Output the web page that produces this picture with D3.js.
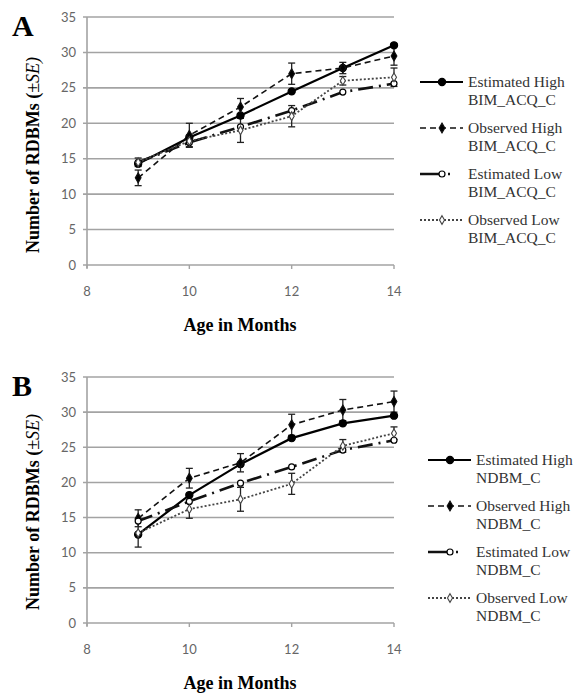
<!DOCTYPE html>
<html>
<head>
<meta charset="utf-8">
<script src="https://cdn.jsdelivr.net/npm/d3@7"></script>
<style>
  body { margin: 0; background: #fff; }
  .serif { font-family: "Liberation Serif", "DejaVu Serif", "Times New Roman", serif; }
  .sans { font-family: Lato, "Open Sans", sans-serif; }
</style>
</head>
<body>
<svg id="chart" width="579" height="694"></svg>
<script>
// ages and axis ticks
const months = [9, 10, 11, 12, 13, 14];
const xTicks = [8, 10, 12, 14];
const yTicks = [0, 5, 10, 15, 20, 25, 30, 35];

// panel A, BIM_ACQ_C
const aEstHigh = [14.3, 18.0, 21.1, 24.5, 27.8, 31.0];
const aObsHigh = [12.3, 18.3, 22.3, 27.0, 27.8, 29.5];
const aObsHighSE = [1.1, 1.7, 1.2, 1.5, 0.8, 1.3];
const aEstLow = [14.5, 17.3, 19.5, 21.8, 24.4, 25.6];
const aObsLow = [14.5, 17.5, 19.0, 21.0, 26.0, 26.5];
const aObsLowSE = [0.6, 0.8, 1.7, 1.5, 0.6, 1.3];

// panel B, NDBM_C
const bEstHigh = [12.6, 18.2, 22.6, 26.3, 28.4, 29.5];
const bObsHigh = [14.9, 20.6, 22.8, 28.2, 30.3, 31.5];
const bObsHighSE = [1.2, 1.4, 1.3, 1.5, 1.5, 1.5];
const bEstLow = [14.5, 17.3, 19.9, 22.2, 24.6, 26.0];
const bObsLow = [12.8, 16.2, 17.6, 19.8, 25.2, 27.0];
const bObsLowSE = [2.0, 1.3, 1.7, 1.5, 0.9, 0.9];

const seriesNames = ["Estimated High", "Observed High", "Estimated Low", "Observed Low"];

// line styles for the four series, same order as seriesNames
const styles = [
    {dash: null, width: 2.2, color: "#000", marker: "circle", fill: "#000", r: 3.6},
    {dash: "6,4", width: 1.6, color: "#111", marker: "diamond", fill: "#000", r: 3.0},
    {dash: "15,6,2,6", width: 2.6, color: "#111", marker: "circle", fill: "#fff", r: 3.0},
    {dash: "2,2", width: 1.8, color: "#444", marker: "diamond", fill: "#fff", r: 2.6}
];

const svg = d3.select("#chart");

function marker(sel, st, cx, cy) {
    if (st.marker === "circle") {
        sel.append("circle")
            .attr("cx", cx).attr("cy", cy).attr("r", st.r)
            .attr("fill", st.fill).attr("stroke", "#000").attr("stroke-width", 1.2);
    } else {
        sel.append("path")
            .attr("d", d3.symbol(d3.symbolDiamond, st.r * st.r * 3.2)())
            .attr("transform", `translate(${cx},${cy})`)
            .attr("fill", st.fill).attr("stroke", st.color).attr("stroke-width", 1.1);
    }
}

function drawPanel(p) {
    const g = svg.append("g");
    const x = d3.scaleLinear().domain([8, 14]).range([87, 394]);
    const y = d3.scaleLinear().domain([0, 35]).range([p.bottom, p.top]);

    // gridlines with little left ticks
    g.selectAll(".grid").data(yTicks).join("line")
        .attr("x1", 83).attr("x2", x(14))
        .attr("y1", d => y(d)).attr("y2", d => y(d))
        .attr("stroke", "#a3a3a3").attr("stroke-width", 1.6);

    // y axis line
    g.append("line")
        .attr("x1", x(8)).attr("x2", x(8))
        .attr("y1", y(35)).attr("y2", y(0) + 3)
        .attr("stroke", "#a3a3a3").attr("stroke-width", 1.6);

    // x ticks
    g.selectAll(".xt").data(xTicks).join("line")
        .attr("x1", d => x(d)).attr("x2", d => x(d))
        .attr("y1", y(0)).attr("y2", y(0) + 4)
        .attr("stroke", "#a3a3a3").attr("stroke-width", 1.4);

    g.selectAll(".yl").data(yTicks).join("text")
        .attr("class", "sans")
        .attr("x", 76).attr("y", d => y(d))
        .attr("dy", "0.35em")
        .attr("text-anchor", "end")
        .attr("font-size", 13)
        .attr("fill", "#666")
        .text(d => d);

    g.selectAll(".xl").data(xTicks).join("text")
        .attr("class", "sans")
        .attr("x", d => x(d)).attr("y", y(0) + 31)
        .attr("text-anchor", "middle")
        .attr("font-size", 13)
        .attr("fill", "#666")
        .text(d => d);

    // axis titles
    g.append("text")
        .attr("class", "serif")
        .attr("x", 240).attr("y", y(0) + 66)
        .attr("text-anchor", "middle")
        .attr("font-size", 18).attr("font-weight", "bold")
        .text("Age in Months");

    const yt = g.append("text")
        .attr("class", "serif")
        .attr("transform", `translate(39,${p.titleY}) rotate(-90)`)
        .attr("text-anchor", "middle")
        .attr("font-size", 18).attr("font-weight", "bold");
    yt.append("tspan").text("Number of RDBMs (");
    yt.append("tspan").attr("font-style", "italic").attr("font-weight", "normal").text("\u00B1SE)");

    g.append("text")
        .attr("class", "serif")
        .attr("x", 12).attr("y", p.top + 19)
        .attr("font-size", 30).attr("font-weight", "bold")
        .text(p.label);

    // series lines
    const line = d3.line().x((d, i) => x(months[i])).y(d => y(d));
    p.series.forEach((vals, k) => {
        const st = styles[k];
        g.append("path")
            .attr("d", line(vals))
            .attr("fill", "none")
            .attr("stroke", st.color)
            .attr("stroke-width", st.width)
            .attr("stroke-dasharray", st.dash);
    });

    // error bars on observed series
    [[1, p.obsHighSE], [3, p.obsLowSE]].forEach(([k, se]) => {
        const vals = p.series[k];
        const eb = g.append("g").attr("stroke", "#222").attr("stroke-width", 1.3);
        vals.forEach((v, i) => {
            const cx = x(months[i]);
            eb.append("line").attr("x1", cx).attr("x2", cx)
                .attr("y1", y(v - se[i])).attr("y2", y(v + se[i]));
            [v - se[i], v + se[i]].forEach(e => {
                eb.append("line").attr("x1", cx - 3.5).attr("x2", cx + 3.5)
                    .attr("y1", y(e)).attr("y2", y(e));
            });
        });
    });

    // markers
    p.series.forEach((vals, k) => {
        vals.forEach((v, i) => marker(g, styles[k], x(months[i]), y(v)));
    });

    // legend
    seriesNames.forEach((name, k) => {
        const st = styles[k];
        const ly = p.legendY + k * 46;
        g.append("line")
            .attr("x1", p.legendX).attr("x2", p.legendX + 43)
            .attr("y1", ly).attr("y2", ly)
            .attr("stroke", st.color)
            .attr("stroke-width", st.width)
            .attr("stroke-dasharray", k === 2 ? "20,8,2,40" : st.dash);
        marker(g, st, p.legendX + 22, ly);
        const t = g.append("text")
            .attr("class", "serif")
            .attr("x", p.legendX + 48).attr("y", ly + 5)
            .attr("font-size", 15.5)
            .attr("fill", "#333");
        t.append("tspan").text(name);
        t.append("tspan").attr("x", p.legendX + 48).attr("dy", 18).text(p.suffix);
    });
}

drawPanel({
    top: 17, bottom: 265, label: "A", titleY: 155,
    series: [aEstHigh, aObsHigh, aEstLow, aObsLow],
    obsHighSE: aObsHighSE, obsLowSE: aObsLowSE,
    legendX: 420, legendY: 82, suffix: "BIM_ACQ_C"
});

drawPanel({
    top: 377, bottom: 623, label: "B", titleY: 512,
    series: [bEstHigh, bObsHigh, bEstLow, bObsLow],
    obsHighSE: bObsHighSE, obsLowSE: bObsLowSE,
    legendX: 428, legendY: 460, suffix: "NDBM_C"
});
</script>
</body>
</html>
